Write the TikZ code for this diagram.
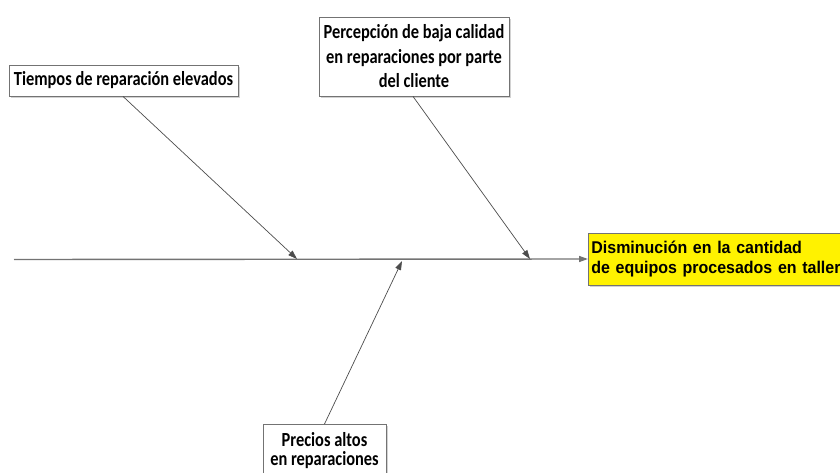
\documentclass[tikz,border=0pt]{standalone}
\usepackage{fontspec}
\setmainfont{Carlito}[FakeStretch=0.82]
\newfontfamily\arialfont{Liberation Sans}[FakeStretch=0.94]
\usetikzlibrary{arrows.meta,shadows}
\begin{document}
\begin{tikzpicture}[x=1pt,y=-1pt,
  boxshadow/.style={drop shadow={shadow xshift=2pt, shadow yshift=-2pt, fill=black!35, opacity=0.5}},
  cbox/.style={draw=black!55, line width=0.8pt, fill=white, align=center, inner sep=0pt,
     font=\bfseries\fontsize{20}{24.5}\selectfont, boxshadow},
  bone/.style={draw=black!70, line width=0.7pt, -{Triangle[length=9pt,width=6pt]}},
]
\clip (0,0) rectangle (840,473);
\useasboundingbox (0,0) rectangle (840,473);
\node[cbox, minimum width=229pt, minimum height=31pt] (t) at (123.5,80.5) {Tiempos de reparación elevados};
\node[cbox, minimum width=190pt, minimum height=79pt] (p) at (414,56.5) {Percepción de baja calidad\\ en reparaciones por parte\\ del cliente};
\node[cbox, minimum width=123pt, anchor=north, inner ysep=8pt, font=\bfseries\fontsize{20}{19}\selectfont] (r) at (324.5,424) {Precios altos\\en reparaciones\\[20pt]\mbox{}};
\node[draw=black!55, line width=0.8pt, fill=yellow, anchor=west, align=left,
  text width=270pt, minimum height=52pt, inner xsep=3pt, inner ysep=0pt,
  font=\arialfont\bfseries\fontsize{17}{19.5}\selectfont, boxshadow] (e) at (588,259)
  {Disminución en la cantidad\\de equipos procesados en taller};
\coordinate (s0) at (14,259.5);
\coordinate (a1) at (297,259);
\coordinate (a2) at (530,259);
\coordinate (a4) at (402,261);
\draw[draw=black!55, line width=1.4pt, -{Triangle[length=9pt,width=6pt]}] (s0) -- (e.west);
\draw[bone] (t.south -| 123,0) -- (a1);
\draw[bone] (p.south -| 413,0) -- (a2);
\draw[bone] (r.north) -- (a4);
\end{tikzpicture}
\end{document}
